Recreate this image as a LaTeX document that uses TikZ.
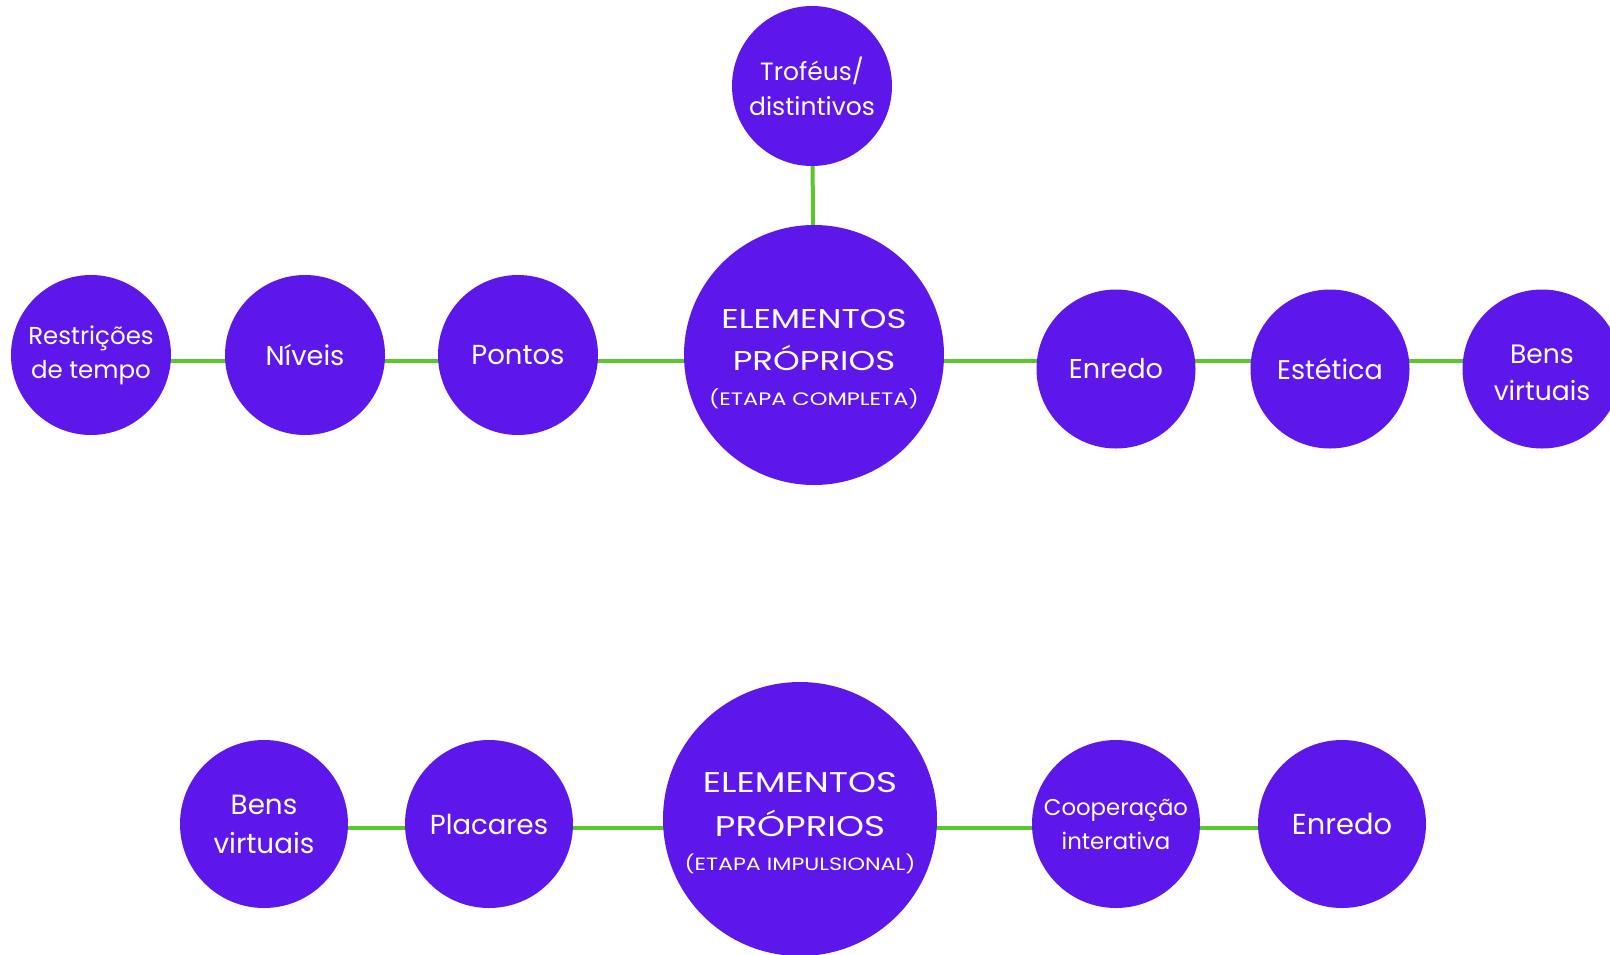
\documentclass[tikz,border=0pt]{standalone}
\usepackage{fontspec}
\setmainfont{Poppins}
\newfontfamily\widecaps{Poppins}[FakeStretch=1.25]
\usetikzlibrary{backgrounds}
\definecolor{violet}{HTML}{5E17EB}
\definecolor{leaf}{HTML}{5BC72B}
\tikzset{
  bubble/.style={circle, fill=violet, text=white, inner sep=0pt,
                 minimum size=#1, align=center},
  caption/.style={text=white, inner sep=0pt, align=center},
  link/.style={draw=leaf, line width=4pt},
}
\newcommand\fsz[2]{\fontsize{#1}{#2}\selectfont}

\begin{document}
\begin{tikzpicture}[x=1pt,y=-1pt]
\useasboundingbox (0,0) rectangle (1610,954);

% upper chart: complete stage
\node[bubble=160pt, font=\fsz{24.5}{34}] (rt) at (91,355) {Restrições\\de tempo};
\node[bubble=160pt, font=\fsz{27.2}{34}] (nv) at (305,355) {Níveis};
\node[bubble=160pt, font=\fsz{27.5}{34}] (pt) at (518,355) {Pontos};
\node[bubble=260pt] (ec) at (814,355) {};
\node[caption, font=\widecaps\fsz{27.2}{42}] (ec-text) at ([yshift=-4pt]ec.center)
  {ELEMENTOS\\PRÓPRIOS\\[-7pt]{\fsz{18}{30}(ETAPA COMPLETA)}};
\node[bubble=160pt, font=\fsz{25}{35}] (tr) at (812,86) {Troféus/\\distintivos};
\node[bubble=159pt, font=\fsz{27.2}{37}] (en1) at (1116,369) {Enredo};
\node[bubble=159pt, font=\fsz{27}{37}] (es) at (1330,369) {Estética};
\node[bubble=159pt] (bv1) at (1542,369) {};
\node[caption, font=\fsz{26.6}{37}] (bv1-text) at ([yshift=-4pt]bv1.center) {Bens\\virtuais};

% lower chart: impulsional stage
\node[bubble=168pt, font=\fsz{27.8}{39}] (bv2) at (264,824) {Bens\\virtuais};
\node[bubble=168pt, font=\fsz{27.5}{39}] (pl) at (489,824) {Placares};
\node[bubble=274pt] (ei) at (800,819) {};
\node[caption, font=\widecaps\fsz{28.5}{44}] (ei-text) at ([yshift=-4pt]ei.center)
  {ELEMENTOS\\PRÓPRIOS\\[-10pt]{\fsz{17.8}{30}(ETAPA IMPULSIONAL)}};
\node[bubble=168pt, font=\fsz{22.8}{34}] (co) at (1116,824) {Cooperação\\interativa};
\node[bubble=168pt, font=\fsz{28.9}{39}] (en2) at (1342,824) {Enredo};

\coordinate (upper) at (0,361);
\coordinate (lower) at (0,828);

\begin{scope}[on background layer]
  \draw[link] (rt |- upper) -- (nv |- upper) -- (pt |- upper) -- (ec |- upper)
              -- (en1 |- upper) -- (es |- upper) -- (bv1 |- upper);
  \draw[link] (tr) -- (ec);
  \draw[link] (bv2 |- lower) -- (pl |- lower) -- (ei |- lower)
              -- (co |- lower) -- (en2 |- lower);
\end{scope}
\end{tikzpicture}
\end{document}
